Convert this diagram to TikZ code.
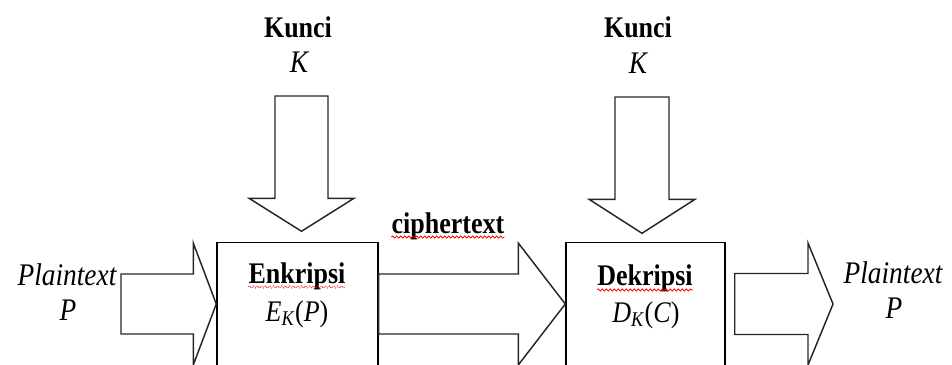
\documentclass[tikz,border=0pt]{standalone}
\usepackage{fontspec}
\usepackage{graphicx}
\setmainfont{Liberation Serif}
\usetikzlibrary{calc,decorations.pathmorphing}

% horizontal block arrow: start, tip, shaft half-width, head half-width, head length
\newcommand\hblock[5]{%
  \draw[barrow] ($(#1)+(0,-#3)$) -- ($(#2)+(-#5,-#3)$) -- ($(#2)+(-#5,-#4)$) -- (#2)
    -- ($(#2)+(-#5,#4)$) -- ($(#2)+(-#5,#3)$) -- ($(#1)+(0,#3)$) -- cycle;}
% vertical (downward) block arrow: same arguments
\newcommand\vblock[5]{%
  \draw[barrow] ($(#1)+(-#3,0)$) -- ($(#2)+(-#3,-#5)$) -- ($(#2)+(-#4,-#5)$) -- (#2)
    -- ($(#2)+(#4,-#5)$) -- ($(#2)+(#3,-#5)$) -- ($(#1)+(#3,0)$) -- cycle;}
% slightly tall lettering
\newcommand\tall[1]{\scalebox{1}[1.15]{#1}}

\begin{document}
\begin{tikzpicture}[x=0.75pt,y=-0.75pt,
  lbl/.style={inner sep=0pt,anchor=base,font=\fontsize{19.5}{22}\selectfont},
  ilbl/.style={inner sep=0pt,anchor=base,font=\fontsize{20.5}{23}\selectfont\itshape},
  procbox/.style={draw=black,line width=1.1pt,minimum height=92.25pt,inner sep=0pt},
  barrow/.style={draw=black!85,line width=1.1pt,line join=miter},
  spell/.style={draw=red,line width=0.6pt,decorate,
    decoration={snake,amplitude=0.8pt,segment length=3pt}}]
\useasboundingbox (0,0) rectangle (952,364);
\clip (0,0) rectangle (952,364);

% processing boxes
\node[procbox,minimum width=120.75pt] (enc) at (297.5,304) {};
\node[procbox,minimum width=119.25pt] (dec) at (645.5,304) {};

% free ends of the outer arrows and the key arrows
\coordinate (pin)   at (121,304);
\coordinate (pout)  at (833,304);
\coordinate (k1top) at (301.5,96);
\coordinate (k1tip) at ($(enc.north)+(4,-10.5)$);
\coordinate (k2top) at (642,97);
\coordinate (k2tip) at ($(dec.north)+(-3.5,-8.5)$);
\coordinate (dout)  at ($(dec.east)+(9,0)$);

% block arrows
\hblock{pin}{enc.west}{30}{61}{23}
\hblock{enc.east}{dec.west}{30}{61}{47}
\hblock{dout}{pout}{30.5}{61}{25}
\vblock{k1top}{k1tip}{26.5}{52.5}{33}
\vblock{k2top}{k2tip}{27}{53}{34}

% keys
\node[lbl] (key1) at (298,37) {\tall{\textbf{Kunci}}};
\node[ilbl] (ksym1) at (299,72) {\tall{K}};
\node[lbl] (key2) at (638,37) {\tall{\textbf{Kunci}}};
\node[ilbl] (ksym2) at (638,73) {\tall{K}};

% plaintext in and out
\node[ilbl] (ptin) at (67,285) {\tall{Plaintext}};
\node[ilbl] (psymin) at (68,320) {\tall{P}};
\node[ilbl] (ptout) at (893,283) {\tall{Plaintext}};
\node[ilbl] (psymout) at (894,318) {\tall{P}};

% box contents
\node[lbl] (encname) at (297,283) {\tall{\textbf{Enkripsi}}};
\node[lbl] (encfun) at (297,321) {\tall{\textit{E}\textsubscript{\textit{K}}(\textit{P})}};
\node[lbl] (decname) at (645,285) {\tall{\textbf{Dekripsi}}};
\node[lbl] (decfun) at (646,322) {\tall{\textit{D}\textsubscript{\textit{K}}(\textit{C})}};

% label on the middle arrow
\node[lbl] (cipher) at (448,233) {\tall{\textbf{ciphertext}}};

% spelling marks under the words
\draw[spell] ($(cipher.base west)+(0,4)$) -- ($(cipher.base east)+(0,4)$);
\draw[spell,dash pattern=on 0.8pt off 1pt] ($(encname.base west)+(0,4)$) -- ($(encname.base east)+(0,4)$);
\draw[spell] ($(decname.base west)+(0,5)$) -- ($(decname.base east)+(0,5)$);
\end{tikzpicture}
\end{document}
